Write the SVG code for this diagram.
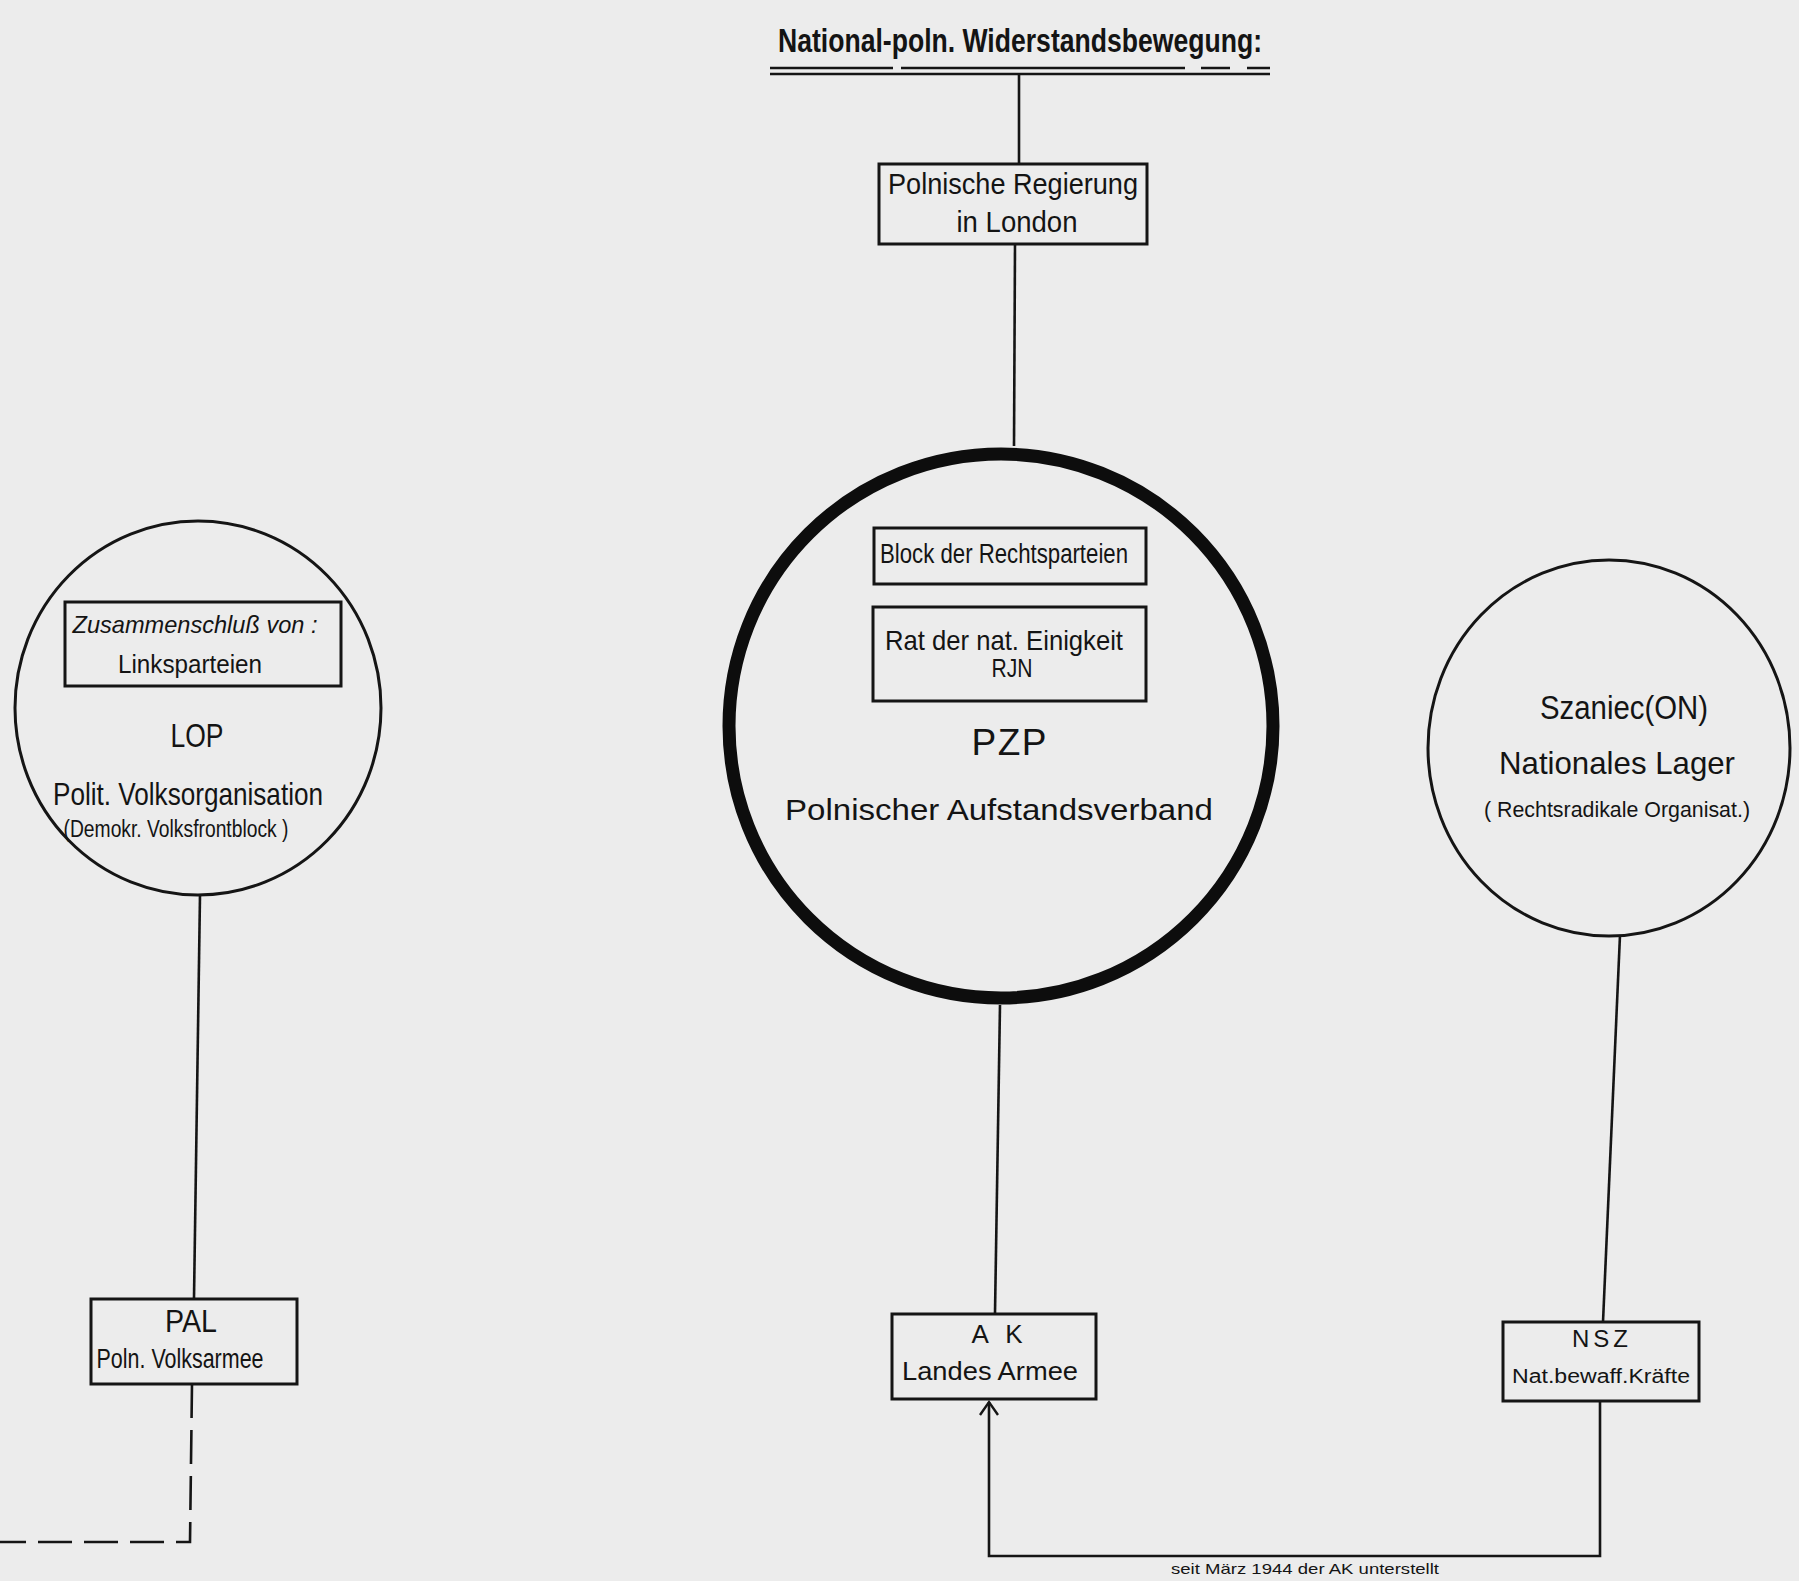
<svg xmlns="http://www.w3.org/2000/svg" width="1799" height="1581" viewBox="0 0 1799 1581">
<defs>
<style>
.bg{fill:#ececec}
.box{fill:none;stroke:#151515;stroke-width:3}
.ring{fill:none;stroke:#151515;stroke-width:3}
.big{fill:none;stroke:#0d0d0d;stroke-width:13}
.ln{fill:none;stroke:#151515;stroke-width:2.6}
.dash{fill:none;stroke:#151515;stroke-width:2.6;stroke-dasharray:34 12}
text{font-family:"Liberation Sans","DejaVu Sans",sans-serif;fill:#141414;text-anchor:middle}
</style>
<marker id="arr" viewBox="0 0 20 20" refX="17" refY="10" markerWidth="20" markerHeight="20" markerUnits="userSpaceOnUse" orient="auto">
<path d="M4,1 L17,10 L4,19" fill="none" stroke="#151515" stroke-width="2.4"/>
</marker>
</defs>
<rect class="bg" x="0" y="0" width="1799" height="1581"/>

<g id="connectors">
<line class="ln" x1="1019" y1="74" x2="1019" y2="164"/>
<line class="ln" x1="1015" y1="244" x2="1014" y2="446"/>
<line class="ln" x1="1000" y1="1005" x2="995" y2="1313"/>
<line class="ln" x1="200" y1="895" x2="194" y2="1298"/>
<path class="dash" d="M192,1384 L190,1542 L0,1542"/>
<line class="ln" x1="1620" y1="935" x2="1603" y2="1322"/>
<path class="ln" d="M1600,1402 L1600,1556 L989,1556 L989,1402" marker-end="url(#arr)"/>
<text x="1305" y="1574" font-size="15" textLength="268" lengthAdjust="spacingAndGlyphs">seit März 1944 der AK unterstellt</text>
</g>

<g id="title">
<text x="1020" y="52" font-size="34" font-weight="bold" textLength="484" lengthAdjust="spacingAndGlyphs">National-poln. Widerstandsbewegung:</text>
<path class="ln" d="M770,68 L893,68 M901,68 L1185,68 M1201,68 L1230,68 M1247,68 L1270,68" stroke-width="3"/>
<line class="ln" x1="770" y1="74" x2="1270" y2="74" stroke-width="3"/>
</g>

<g id="regierung">
<rect class="box" x="879" y="164" width="268" height="80"/>
<text x="1013" y="194" font-size="29" textLength="250" lengthAdjust="spacingAndGlyphs">Polnische Regierung</text>
<text x="1017" y="232" font-size="30" textLength="121" lengthAdjust="spacingAndGlyphs">in London</text>
</g>

<g id="pzp">
<circle class="big" cx="1001" cy="726" r="272"/>
<g id="block">
<rect class="box" x="874" y="528" width="272" height="56"/>
<text x="1004" y="563" font-size="27" textLength="248" lengthAdjust="spacingAndGlyphs">Block der Rechtsparteien</text>
</g>
<g id="rjn">
<rect class="box" x="873" y="607" width="273" height="94"/>
<text x="1004" y="650" font-size="28" textLength="238" lengthAdjust="spacingAndGlyphs">Rat der nat. Einigkeit</text>
<text x="1012" y="677" font-size="25" textLength="41" lengthAdjust="spacingAndGlyphs">RJN</text>
</g>
<text x="1009" y="755" font-size="37" textLength="75" lengthAdjust="spacing">PZP</text>
<text x="999" y="820" font-size="30" textLength="428" lengthAdjust="spacingAndGlyphs">Polnischer Aufstandsverband</text>
</g>

<g id="lop">
<ellipse class="ring" cx="198" cy="708" rx="183" ry="187"/>
<rect class="box" x="65" y="602" width="276" height="84"/>
<text x="195" y="633" font-size="24" font-style="italic" textLength="245" lengthAdjust="spacingAndGlyphs">Zusammenschluß von :</text>
<text x="190" y="673" font-size="25" textLength="144" lengthAdjust="spacingAndGlyphs">Linksparteien</text>
<text x="197" y="747" font-size="33" textLength="53" lengthAdjust="spacingAndGlyphs">LOP</text>
<text x="188" y="805" font-size="32" textLength="270" lengthAdjust="spacingAndGlyphs">Polit. Volksorganisation</text>
<text x="176" y="837" font-size="23" textLength="225" lengthAdjust="spacingAndGlyphs">(Demokr. Volksfrontblock )</text>
</g>

<g id="szaniec">
<ellipse class="ring" cx="1609" cy="748" rx="181" ry="188"/>
<text x="1624" y="719" font-size="34" textLength="168" lengthAdjust="spacingAndGlyphs">Szaniec(ON)</text>
<text x="1617" y="774" font-size="32" textLength="236" lengthAdjust="spacingAndGlyphs">Nationales Lager</text>
<text x="1617" y="817" font-size="22" textLength="266" lengthAdjust="spacingAndGlyphs">( Rechtsradikale Organisat.)</text>
</g>

<g id="pal">
<rect class="box" x="91" y="1299" width="206" height="85"/>
<text x="191" y="1332" font-size="32" textLength="52" lengthAdjust="spacingAndGlyphs">PAL</text>
<text x="180" y="1368" font-size="27" textLength="167" lengthAdjust="spacingAndGlyphs">Poln. Volksarmee</text>
</g>

<g id="ak">
<rect class="box" x="892" y="1314" width="204" height="85"/>
<text x="997" y="1343" font-size="26" textLength="51" lengthAdjust="spacing">A K</text>
<text x="990" y="1380" font-size="25" textLength="176" lengthAdjust="spacingAndGlyphs">Landes Armee</text>
</g>

<g id="nsz">
<rect class="box" x="1503" y="1322" width="196" height="79"/>
<text x="1600" y="1347" font-size="24" textLength="56" lengthAdjust="spacing">NSZ</text>
<text x="1601" y="1383" font-size="20" textLength="178" lengthAdjust="spacingAndGlyphs">Nat.bewaff.Kräfte</text>
</g>
</svg>
